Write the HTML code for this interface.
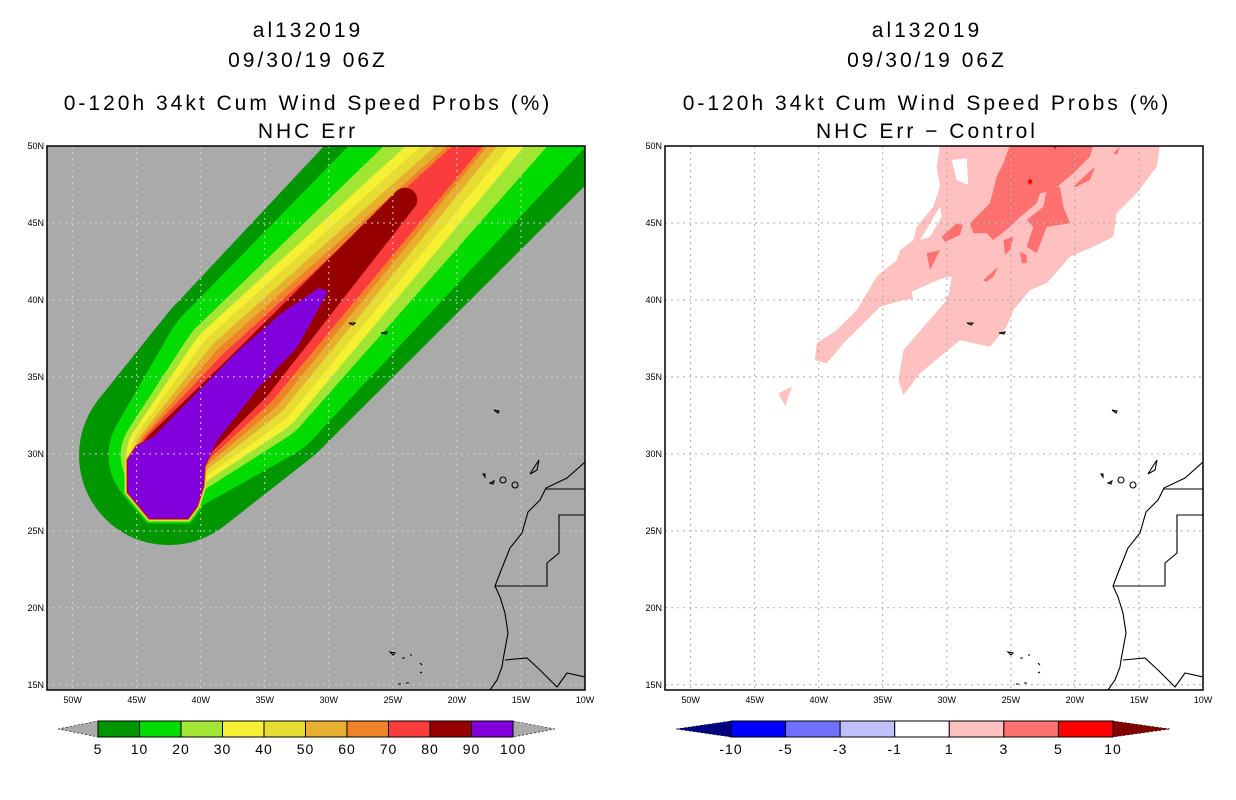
<!DOCTYPE html>
<html><head><meta charset="utf-8"><style>
body{margin:0;background:#fff;width:1236px;height:800px;overflow:hidden}
svg{display:block}
text{font-family:"Liberation Sans",sans-serif}
</style></head><body>
<svg id="s" width="1236" height="800" viewBox="0 0 1236 800" xmlns="http://www.w3.org/2000/svg">
<g font-size="21" text-anchor="middle" fill="#000" letter-spacing="3">
<text x="308" y="37">al132019</text>
<text x="308" y="67">09/30/19 06Z</text>
<text x="308" y="110">0-120h 34kt Cum Wind Speed Probs (%)</text>
<text x="308" y="138">NHC Err</text>
<text x="927" y="37">al132019</text>
<text x="927" y="67">09/30/19 06Z</text>
<text x="927" y="110">0-120h 34kt Cum Wind Speed Probs (%)</text>
<text x="927" y="138">NHC Err − Control</text>
</g>
<defs>
<clipPath id="clipL"><rect x="47" y="146" width="538" height="544"/></clipPath>
</defs>
<g id="left"></g>
<g id="right"></g>
<g id="cbars"></g>
</svg>
<script>
// ---- data ----
const lonTicks = [-50,-45,-40,-35,-30,-25,-20,-15,-10];
const latTicks = [50,45,40,35,30,25,20,15];
const probLevels = [5,10,20,30,40,50,60,70,80,90,100];
const probColors = ['#009600','#00dc00','#a0e632','#f5f032','#e6dc32','#e6af2d','#f08228','#fa3c3c','#960000','#8200dc'];
// thin rim of each >=level contour around the 90% core (degrees)
const coreOffsetDeg = [0.6,0.4,0.25,0.2,0.17,0.14,0.11,0.08,0.05];
// swath half-widths (degrees) at track start / middle / end
const swathStartDeg = [7.0,4.7,3.75,3.3,3.0,2.7,2.5,2.35,2.2];
const swathMidDeg = [8.0,7.0,5.6,5.0,4.4,3.75,3.2,2.65,2.1];
const swathEndDeg = [8.6,6.6,4.2,2.65,1.7,0.9,0.3,0.15,0.95];
const trackStart = [-42.5,29.9];
const trackMid = [-36.3,35.0];
const trackEnd = [[-11.6,56.2],[-11.95,56.2],[-11.95,56.2],[-11.95,56.2],[-11.95,56.2],[-11.95,56.2],[-11.95,56.2],[-11.95,56.2],[-24.05,46.5]];
const coreLon = [-45.7,-45.7,-44.0,-41.0,-40.3,-39.8,-39.7,-38.7,-35.6,-32.5,-30.1,-30.7,-33.6,-37.2,-41.1,-43.7,-45.0];
const coreLat = [29.6,27.5,25.8,25.8,26.6,27.9,29.2,30.9,34.2,36.9,40.5,40.8,39.2,36.6,33.3,31.1,30.5];
const diffLevels = ['-10','-5','-3','-1','1','3','5','10'];
const diffColors = ['#000080','#0000ff','#7070ff','#c0c0ff','#ffffff','#ffc0c0','#ff7070','#ff0000','#800000'];
// difference-field shapes (lon/lat)
const diffLight = [[-30.53,50.1],[-13.36,50.1],[-13.61,48.66],[-15.18,46.92],[-16.74,45.63],[-17.0,44.11],[-18.56,43.46],[-20.38,42.81],[-22.2,41.08],[-23.5,40.64],[-24.8,39.34],[-25.32,38.26],[-26.63,36.96],[-28.97,37.39],[-30.53,36.31],[-32.09,35.23],[-33.39,33.82],[-33.78,34.8],[-33.39,36.74],[-31.57,38.48],[-30.01,39.99],[-30.53,40.43],[-32.35,40.1],[-33.39,39.99],[-35.21,39.56],[-36.77,38.26],[-38.07,37.18],[-39.38,35.88],[-40.29,36.09],[-40.16,37.18],[-38.6,38.04],[-37.03,39.34],[-35.47,41.51],[-33.91,42.59],[-33.65,43.24],[-32.61,43.89],[-32.35,44.76],[-31.05,46.06],[-30.53,47.36],[-30.79,48.66]];
const diffLight2 = [[-43.15,33.93],[-42.11,34.36],[-42.6,33.1]];
const diffHoles = [[[-29.62,49.09],[-28.45,49.2],[-28.32,47.47],[-29.23,47.79]],[[-32.09,43.89],[-30.53,46.06],[-30.4,45.41],[-31.31,44.11]],[[-32.74,40.53],[-30.4,41.4],[-29.62,41.51],[-29.88,40.21],[-32.61,39.99]]];
const diffMid = [[-25.06,50.1],[-18.56,50.1],[-18.82,49.31],[-20.12,48.22],[-21.68,47.14],[-22.72,46.92],[-22.98,46.28],[-24.54,45.19],[-25.06,44.76],[-26.37,43.89],[-26.89,44.33],[-27.93,44.33],[-28.19,44.98],[-26.63,46.28],[-26.11,48.01],[-25.58,48.87]];
const diffMid2 = [[-22.2,47.14],[-21.16,47.36],[-20.9,46.06],[-20.38,44.98],[-22.2,44.76],[-22.98,43.03],[-23.76,43.46],[-23.24,44.76],[-23.76,45.19],[-22.46,46.06]];
const diffMidSmall = [[[-30.4,44.11],[-29.23,44.98],[-28.76,44.87],[-28.97,44.22],[-30.14,43.78]],[[-31.57,43.03],[-30.53,43.24],[-31.31,41.94]],[[-27.15,41.29],[-25.97,42.16],[-26.37,41.51],[-26.89,41.18]],[[-25.58,43.89],[-24.8,44.11],[-25.06,43.24],[-25.45,42.92]],[[-24.28,43.13],[-23.76,42.92],[-23.76,42.38],[-24.15,42.38]],[[-20.12,47.36],[-18.43,48.66],[-18.82,47.79],[-19.86,47.36]],[[-17.0,49.52],[-16.48,49.96],[-16.74,49.42]]];
const diffRed = [[[-23.7,47.68],[-23.5,47.9],[-23.3,47.68],[-23.5,47.46]],[[-21.8,50.1],[-21.3,50.1],[-21.55,49.8]]];

// ---- axes ----
const NS='http://www.w3.org/2000/svg';
const X0=47, W=538, Y0=146, H=544, LON0=-52, LON1=-10, LAT0=14.66, LAT1=50;
function x(lon){return X0+(lon-LON0)/(LON1-LON0)*W;}
function y(lat){return Y0+(LAT1-lat)/(LAT1-LAT0)*H;}
const PXD = W/(LON1-LON0);
function mk(tag,attrs,parent){const e=document.createElementNS(NS,tag);for(const k in attrs)e.setAttribute(k,attrs[k]);parent.appendChild(e);return e;}
function pts(arr){return arr.map(p=>x(p[0]).toFixed(1)+','+y(p[1]).toFixed(1)).join(' ');}

// tapered swath segment: union of circles swept along the segment
function sweep(p0,p1,r0,r1,parent){
  const N=60;
  for(let k=0;k<=N;k++){
    const t=k/N;
    mk('circle',{cx:(p0[0]+(p1[0]-p0[0])*t).toFixed(1),cy:(p0[1]+(p1[1]-p0[1])*t).toFixed(1),r:(r0+(r1-r0)*t).toFixed(1)},parent);
  }
}

function coast(g){
  const cg=mk('g',{fill:'none',stroke:'#000','stroke-width':1.1},g);
  
  
  mk('path',{d:'M585,462 L567,478 L546,488 L540,500 L528,512 L522,533 L510,548 L500,573 L495,586 L500,597 L505,613 L508,633 L503,660 L502,667 L497,680 L490,690'},cg);
  mk('path',{d:'M505,660 L527,658 L540,670 L557,687 L567,673 L585,677'},cg);
  mk('path',{d:'M546,489 L585,489 M585,515 L559,515 L559,553 L547,563 L547,586 L495,586'},cg);
  mk('path',{d:'M349,323 l6,0 l-2,2 z M381,333 l6,-1 l-1,2 z M494,410 l5,1 l-1,2 z M483,474 l2,0 l0,3 z M490,483 l4,-2 l-1,3z M500,480 a3,3 0 1 0 6,0 a3,3 0 1 0 -6,0 M512,485 a3,3 0 1 0 6,0 a3,3 0 1 0 -6,0 M530,474 l5,-8 l4,-6 l-2,10 z M390,652 l5,1 l-2,2 z M402,658 l3,0 M410,655 l2,0 M420,663 l2,2 M398,684 l3,0 M406,683 l3,0 M420,673 l2,-1'},cg);
}
function grid(g,color){
  const gg=mk('g',{stroke:color,'stroke-width':1,'stroke-dasharray':'2,4',fill:'none'},g);
  
  
  lonTicks.slice(0,-1).forEach(l=>mk('line',{x1:x(l),x2:x(l),y1:Y0,y2:Y0+H},gg));
  latTicks.slice(1).forEach(l=>mk('line',{x1:X0,x2:X0+W,y1:y(l),y2:y(l)},gg));
}
function axes(g){
  mk('rect',{x:X0,y:Y0,width:W,height:H,fill:'none',stroke:'#000','stroke-width':1.5},g);
  const t=mk('g',{'font-size':9,fill:'#000'},g);
  
  
  latTicks.forEach(l=>{const e=mk('text',{x:X0-3,y:y(l)+3,'text-anchor':'end'},t);e.textContent=l+'N';
    
    });
  lonTicks.forEach(l=>{const e=mk('text',{x:x(l),y:Y0+H+13,'text-anchor':'middle'},t);e.textContent=(-l)+'W';
    
    });
}

// ---- left panel ----
const left=document.getElementById('left');
const lc=mk('g',{'clip-path':'url(#clipL)'},left);
mk('rect',{x:X0,y:Y0,width:W,height:H,fill:'#aaaaaa'},lc);
const corePts = coreLon.map((lo,i)=>[lo,coreLat[i]]);
for(let i=0;i<9;i++){
  const g=mk('g',{fill:probColors[i]},lc);
  
  
  mk('polygon',{points:pts(corePts),stroke:probColors[i],'stroke-width':2*coreOffsetDeg[i]*PXD,'stroke-linejoin':'round'},g);
  const p0=[x(trackStart[0]),y(trackStart[1])], pm=[x(trackMid[0]),y(trackMid[1])], p1=[x(trackEnd[i][0]),y(trackEnd[i][1])];
  sweep(p0,pm,swathStartDeg[i]*PXD,swathMidDeg[i]*PXD,g);
  sweep(pm,p1,swathMidDeg[i]*PXD,swathEndDeg[i]*PXD,g);
}
const pg=mk('polygon',{points:pts(corePts),fill:probColors[9]},lc);


grid(lc,'#d0d0d0');
coast(lc);
axes(left);

// ---- right panel ----
const right=document.getElementById('right');
const rw=mk('g',{transform:'translate(618,0)'},right);
const rc=mk('g',{'clip-path':'url(#clipL)'},rw);
mk('rect',{x:X0,y:Y0,width:W,height:H,fill:'#fff'},rc);
[[diffLight,5],[diffLight2,5],...diffHoles.map(s=>[s,4]),[diffMid,6],[diffMid2,6],...diffMidSmall.map(s=>[s,6]),...diffRed.map(s=>[s,7])].forEach(([s,c])=>{
  const e=mk('polygon',{points:pts(s),fill:diffColors[c]},rc);
  
  
});
grid(rc,'#aaaaaa');
coast(rc);
axes(rw);

// ---- colorbars ----
const cb=document.getElementById('cbars');
function colorbar(x0,x1,tipL,tipR,colors,labels,name,fillL,fillR){
  const g=mk('g',{},cb);
  
  
  const n=colors.length, w=(x1-x0)/n, yt=721, yb=737, ym=729;
  mk('polygon',{points:`${tipL},${ym} ${x0},${yt} ${x0},${yb}`,fill:fillL,stroke:'#000','stroke-width':0.6,'stroke-dasharray':'2,2'},g);
  mk('polygon',{points:`${tipR},${ym} ${x1},${yt} ${x1},${yb}`,fill:fillR,stroke:'#000','stroke-width':0.6,'stroke-dasharray':'2,2'},g);
  colors.forEach((c,i)=>{const r=mk('rect',{x:x0+i*w,y:yt,width:w,height:yb-yt,fill:c,stroke:'#000','stroke-width':1},g);
    
    });
  labels.forEach((l,i)=>{const t=mk('text',{x:x0+(labels.length===n+1?i:i+1)*w,y:754,'font-size':14,'text-anchor':'middle','letter-spacing':1},g);t.textContent=l;
    
    });
}
colorbar(98,513,58,555,probColors,probLevels,'prob-colorbar','#aaaaaa','#aaaaaa');
colorbar(731,1113,676,1170,diffColors.slice(1,8),diffLevels,'diff-colorbar',diffColors[0],diffColors[8]);
</script>
</body></html>
